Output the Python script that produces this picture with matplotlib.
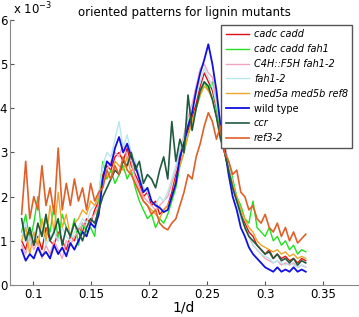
import numpy as np
import matplotlib.pyplot as plt

# sampling of 1/d (evenly spaced scan)
inv_d = np.linspace(0.09, 0.335, 71)

# intensities in units of 1e-3
cadc_cadd = [1.0, 0.8, 1.2, 0.9, 1.1, 0.8, 1.3, 1.0, 0.9, 1.2, 1.0, 0.8, 1.1, 1.0,
             1.3, 1.2, 1.5, 1.4, 1.7, 1.9,
             2.5, 2.7, 2.6, 2.9, 3.0, 2.8, 3.1, 2.7,
             2.5, 2.3, 2.0, 2.1, 1.8, 1.9, 1.6, 1.7,
             1.8, 2.1, 2.5, 2.8, 3.3,
             3.5, 3.8, 4.1, 4.5, 4.8, 4.6,
             4.4, 4.0, 3.5, 3.0, 2.6, 2.2,
             1.9, 1.6, 1.4, 1.2, 1.1, 0.9,
             0.8, 0.7, 0.8, 0.6, 0.7, 0.6, 0.65, 0.55, 0.6, 0.5, 0.6, 0.55]
cadc_cadd_fah1 = [1.2, 1.6, 1.0, 1.4, 2.0, 1.1, 1.5, 1.2, 1.8, 1.0, 1.6, 1.3, 1.1, 1.5,
                  0.9, 1.4, 1.2, 1.3, 1.1, 2.0,
                  2.8, 2.4, 2.6, 2.3, 2.5, 2.7, 2.4, 2.6,
                  2.2, 1.9, 1.7, 1.5, 1.6, 1.3, 1.5, 1.4,
                  1.6, 1.9, 2.2, 2.7, 3.0,
                  3.4, 3.7, 4.0, 4.3, 4.6, 4.4,
                  4.6, 4.0, 3.5, 3.1, 2.8, 2.4,
                  2.0, 1.8, 1.5, 1.4, 1.9, 1.3,
                  1.2, 1.1, 1.3, 1.0, 1.1, 0.9, 1.0, 0.8, 0.9, 0.7, 0.8, 0.75]
c4h_f5h = [0.9, 0.7, 1.1, 0.8, 1.0, 0.6, 0.9, 0.7, 1.0, 0.8, 0.6, 1.0, 0.9, 1.1,
           1.2, 1.4, 1.3, 1.5, 1.6, 1.8,
           2.4, 2.6, 2.8, 3.0, 2.9, 3.2, 2.9, 2.8,
           2.4, 2.2, 2.0, 1.9, 1.8, 1.7, 1.8, 1.9,
           2.0, 2.3, 2.6, 3.0, 3.4,
           3.8, 4.1, 4.5, 4.9, 5.0, 4.8,
           4.7, 4.2, 3.7, 3.2, 2.7, 2.3,
           1.9, 1.6, 1.3, 1.1, 0.9, 0.8,
           0.7, 0.6, 0.55, 0.5, 0.55, 0.45, 0.5, 0.45, 0.5, 0.4, 0.45, 0.4]
fah1_2 = [1.1, 1.4, 0.9, 1.2, 1.0, 1.3, 0.9, 1.1, 1.2, 1.0, 1.3, 1.1, 1.0, 1.2,
          1.3, 1.5, 1.4, 1.7, 1.8, 2.1,
          2.7, 3.0, 2.9, 3.3, 3.7, 3.1, 3.4, 3.0,
          2.8, 2.5, 2.2, 2.1, 1.9, 1.8, 2.0, 1.9,
          2.1, 2.4, 2.7, 3.1, 3.3,
          3.7, 4.0, 4.3, 4.6, 4.9, 4.7,
          4.5, 4.1, 3.6, 3.1, 2.7, 2.3,
          1.9, 1.5, 1.3, 1.1, 0.9, 0.8,
          0.7, 0.65, 0.6, 0.5, 0.55, 0.5, 0.45, 0.5, 0.45, 0.4, 0.45, 0.4]
med5 = [1.0, 1.3, 0.7, 1.2, 0.9, 1.5, 1.0, 1.8, 1.2, 2.1, 1.3, 1.6, 1.1, 1.4,
        1.5, 1.7, 1.6, 1.9, 1.8, 2.0,
        2.3, 2.5, 2.4, 2.8, 2.7, 2.6, 2.9, 2.5,
        2.3, 2.1, 1.9, 1.8, 1.7, 1.6, 1.5, 1.7,
        1.8, 2.0, 2.4, 2.7, 3.0,
        3.4, 3.7, 4.0, 4.3, 4.5, 4.4,
        4.2, 3.8, 3.4, 3.0, 2.6, 2.3,
        2.0, 1.7, 1.5, 1.3, 1.2, 1.0,
        0.9, 0.85, 0.8, 0.75, 0.8, 0.7, 0.75, 0.65, 0.7, 0.6, 0.65, 0.6]
wild_type = [0.8, 0.55, 0.7, 0.6, 0.85, 0.65, 0.75, 0.6, 0.9, 0.7, 0.85, 0.65, 0.95, 0.8,
             1.0, 1.2, 1.1, 1.4, 1.3, 1.6,
             2.4, 2.8, 2.7, 3.1, 3.35, 3.0, 3.2, 2.9,
             2.7, 2.4, 2.1, 2.2, 1.9, 1.8, 1.75, 1.65,
             1.7, 2.0, 2.3, 2.9, 3.2,
             3.6, 3.9, 4.4, 4.8, 5.1, 5.45,
             5.0, 4.4, 3.6, 3.1, 2.5, 2.0,
             1.7, 1.3, 1.1, 0.85, 0.7, 0.6,
             0.5, 0.4, 0.35, 0.3, 0.4, 0.3, 0.35, 0.3, 0.4, 0.3, 0.35, 0.3]
ccr = [1.5, 1.0, 1.3, 0.9, 1.4, 1.1, 1.6, 1.0, 1.2, 1.5, 0.9, 1.3, 1.1, 1.4,
       1.2, 1.0, 1.3, 1.5, 1.4, 1.7,
       2.0, 2.2, 2.4, 2.6, 2.5, 2.8, 2.7, 3.0,
       2.6, 2.8, 2.3, 2.5, 2.4, 2.2, 2.6, 2.9,
       2.4, 3.7, 2.8, 3.3, 3.0,
       4.3, 3.5, 4.0, 4.4, 4.6, 4.5,
       4.2, 3.8, 3.3, 3.0, 2.6, 2.2,
       1.9, 1.6, 1.3, 1.1, 1.0, 0.9,
       0.8, 0.7, 0.75, 0.6, 0.7, 0.55, 0.6, 0.5, 0.6, 0.45, 0.55, 0.5]
ref3_2 = [1.6, 2.8, 1.5, 2.0, 1.7, 2.7, 1.8, 2.2, 1.6, 3.1, 1.7, 2.3, 1.8, 2.4,
          1.9, 2.2, 1.7, 2.3, 1.9, 2.1,
          2.2, 2.6, 2.4, 2.7, 2.5, 2.9, 2.6, 2.5,
          2.3, 2.1, 1.9, 1.8, 1.6, 1.7, 1.4, 1.3,
          1.25, 1.4, 1.5, 1.8, 2.1,
          2.5, 2.4, 2.9, 3.2, 3.6, 3.9,
          3.7, 3.3, 3.6, 3.0, 2.8, 2.5,
          2.6, 2.1, 2.0, 1.7, 1.8, 1.5,
          1.4, 1.6, 1.3, 1.2, 1.4, 1.1, 1.3, 1.0, 1.2, 0.95, 1.05, 1.15]

series = [
    ('cadc cadd', cadc_cadd, '#e01010', 'italic', 1.0),
    ('cadc cadd fah1', cadc_cadd_fah1, '#22e022', 'italic', 1.0),
    ('C4H::F5H fah1-2', c4h_f5h, '#f2a4bc', 'italic', 1.0),
    ('fah1-2', fah1_2, '#b8e6f0', 'italic', 1.0),
    ('med5a med5b ref8', med5, '#f0a428', 'italic', 1.0),
    ('wild type', wild_type, '#1010e0', 'normal', 1.3),
    ('ccr', ccr, '#1f5a40', 'italic', 1.2),
    ('ref3-2', ref3_2, '#e0602a', 'italic', 1.2),
]

fig = plt.figure(figsize=(3.59, 3.17), dpi=100)
ax = fig.add_axes([0.028, 0.101, 0.969, 0.836])

for name, vals, col, style, lw in series:
    ax.plot(inv_d, vals, color=col, linewidth=lw, label=name)

ax.set_xlim(0.08, 0.38)
ax.set_ylim(0, 6)
ax.set_xticks([0.1, 0.15, 0.2, 0.25, 0.3, 0.35])
ax.set_xticklabels(['0.1', '0.15', '0.2', '0.25', '0.3', '0.35'])
ax.set_yticks([0, 1, 2, 3, 4, 5, 6])
ax.tick_params(direction='in', length=3, labelsize=8.5, colors='#555555',
               labelcolor='black', pad=2)
for s in ['top', 'right']:
    ax.spines[s].set_visible(False)
for s in ['left', 'bottom']:
    ax.spines[s].set_color('#888888')

ax.set_xlabel('1/d', fontsize=10, labelpad=0)
ax.set_title('oriented patterns for lignin mutants', fontsize=8.5, pad=3)
fig.text(0.035, 0.945, r'x 10$^{-3}$', fontsize=8.5, va='bottom')

leg = ax.legend(loc='upper right', fontsize=7, handlelength=2.4,
                handletextpad=0.5, labelspacing=0.5, borderpad=0.45,
                fancybox=False, edgecolor='#555555', framealpha=1,
                bbox_to_anchor=(0.998, 1.0))
for txt, (name, vals, col, style, lw) in zip(leg.get_texts(), series):
    txt.set_fontstyle(style)

fig.savefig('out.png', dpi=100)
